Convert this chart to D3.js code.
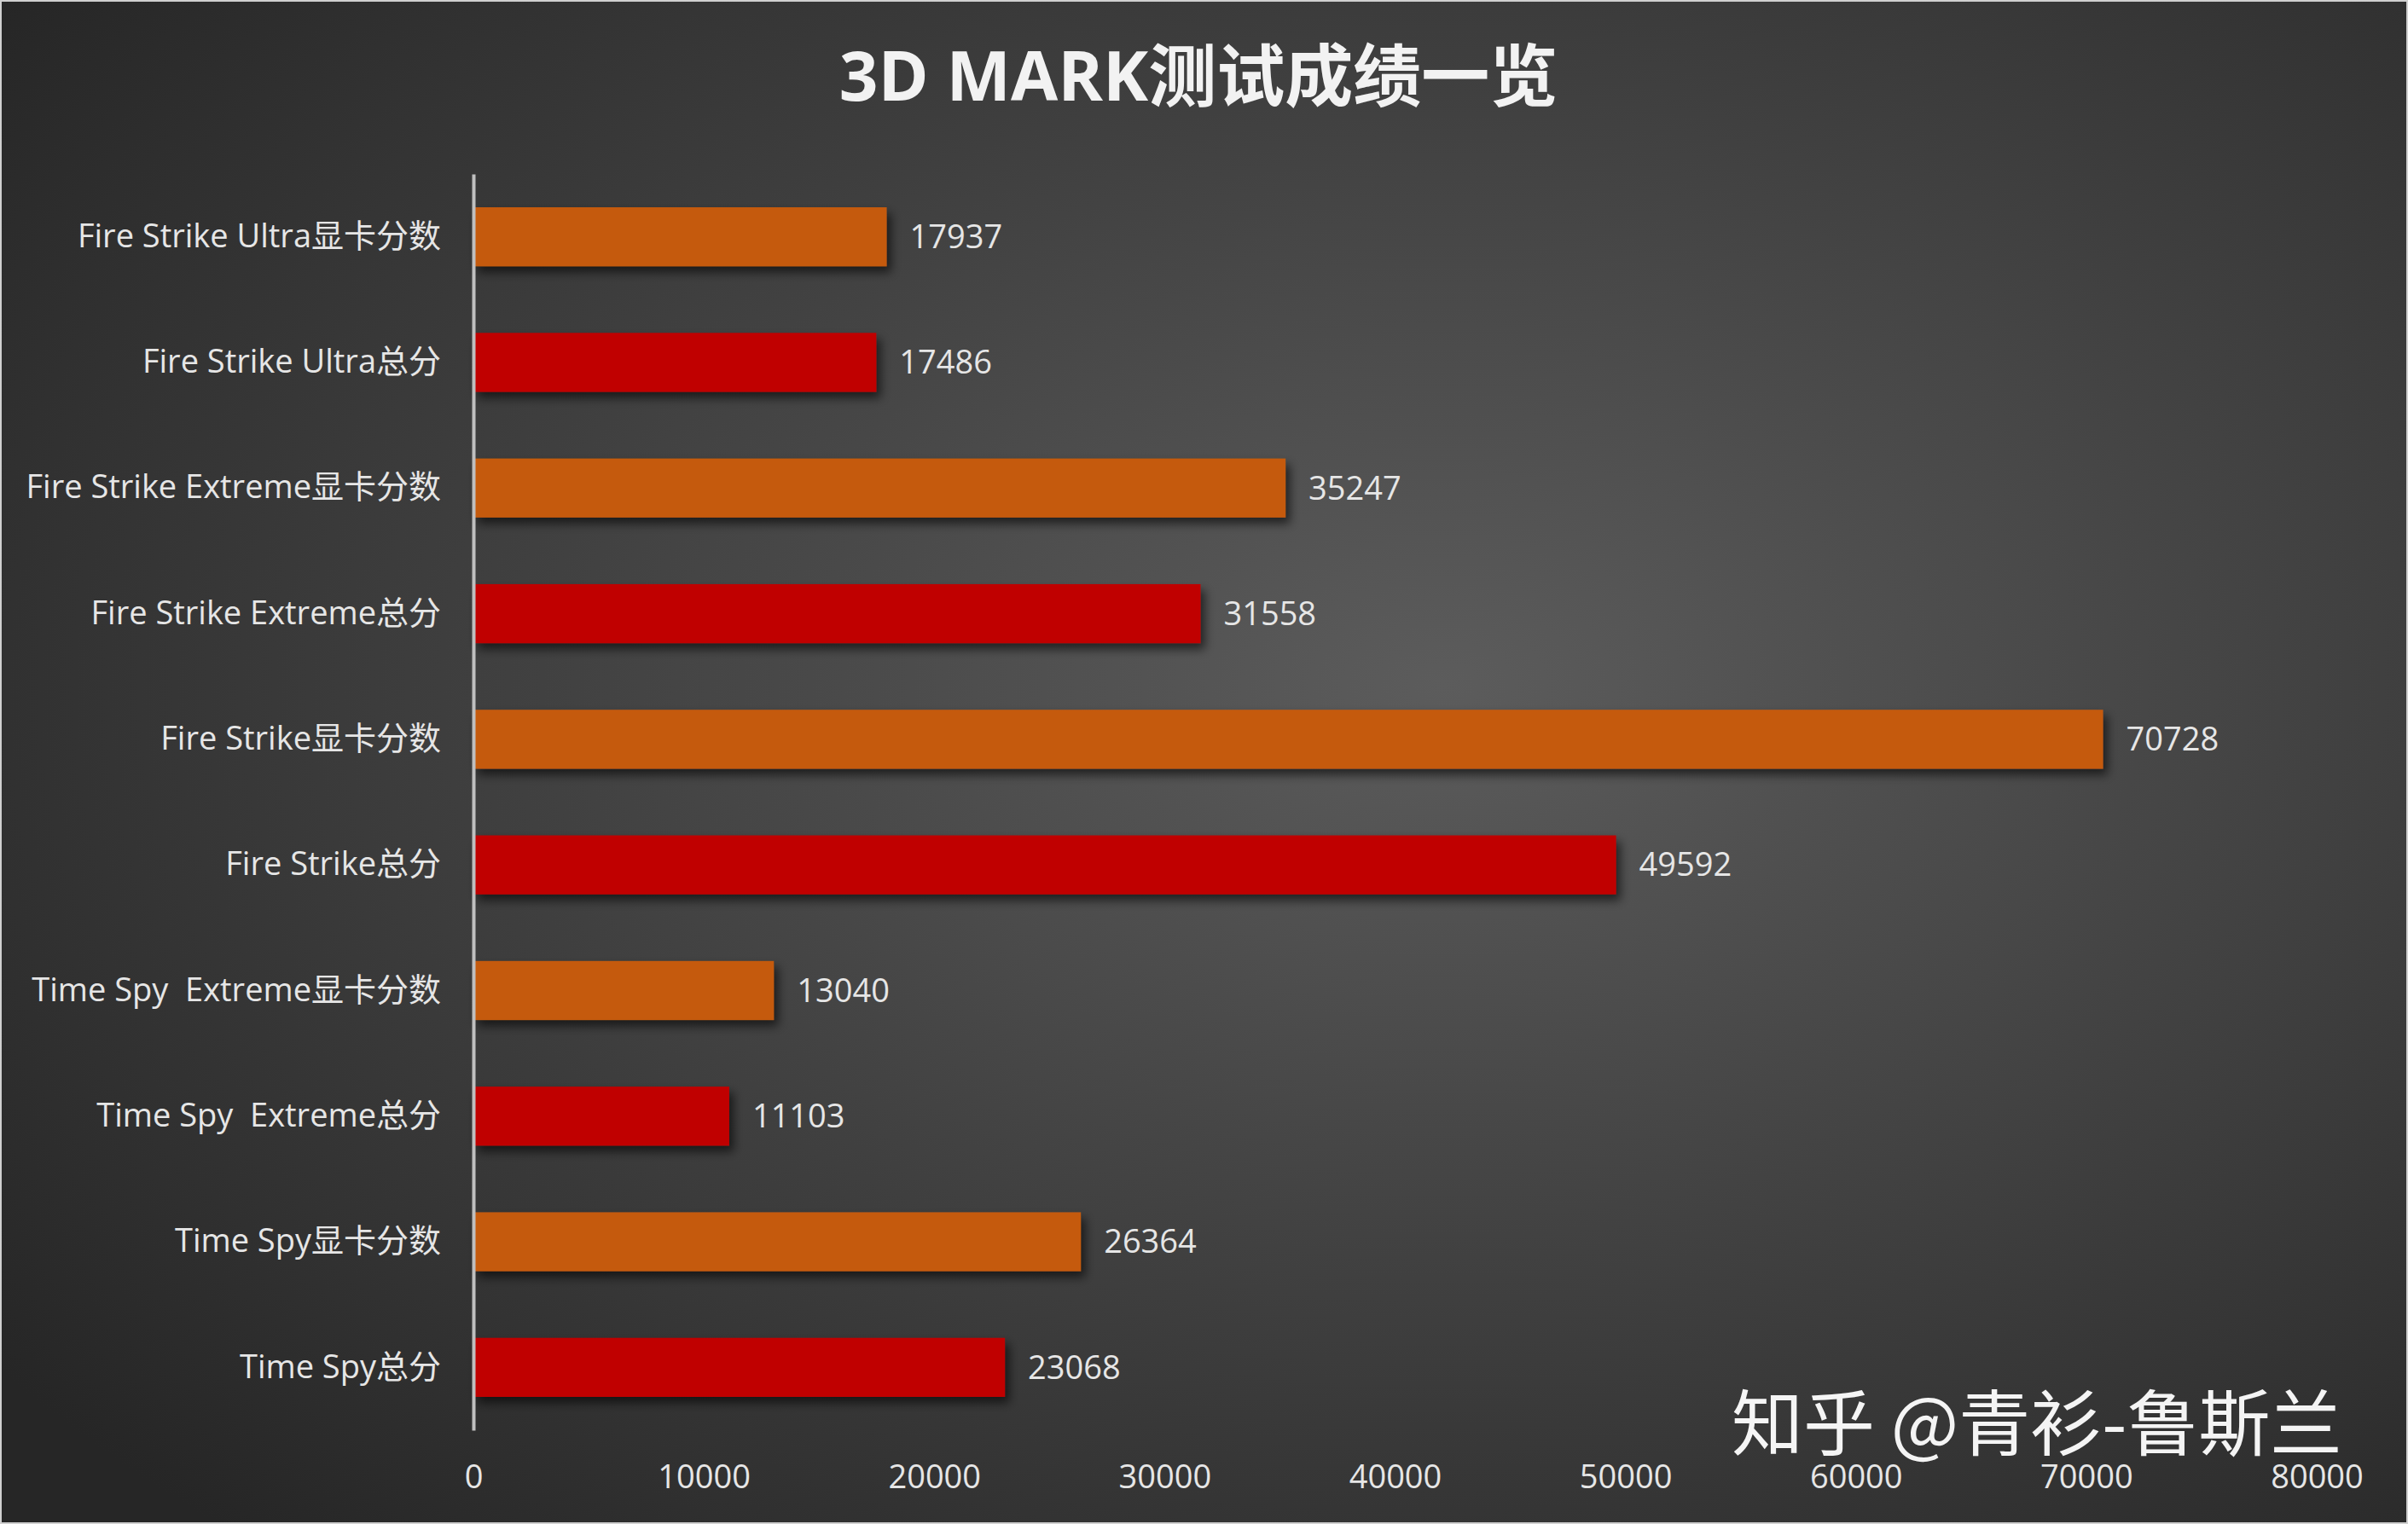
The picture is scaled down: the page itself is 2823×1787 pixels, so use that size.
<!DOCTYPE html>
<html><head><meta charset="utf-8">
<script src="https://cdn.jsdelivr.net/npm/d3@7"></script>
<style>
  body { margin: 0; background: #fff; }
  svg { display: block; }
</style></head>
<body><div id="chart"></div>
<script>
const categories = [
  'Fire Strike Ultra显卡分数', 'Fire Strike Ultra总分',
  'Fire Strike Extreme显卡分数', 'Fire Strike Extreme总分',
  'Fire Strike显卡分数', 'Fire Strike总分',
  'Time Spy  Extreme显卡分数', 'Time Spy  Extreme总分',
  'Time Spy显卡分数', 'Time Spy总分'
];
const scores = [17937, 17486, 35247, 31558, 70728, 49592, 13040, 11103, 26364, 23068];
const barColors = ['#C55A11', '#C00000'];
const xTicks = [0, 10000, 20000, 30000, 40000, 50000, 60000, 70000, 80000];

const W = 2823, H = 1787;
const font = '"Open Sans", "Noto Sans CJK SC", sans-serif';

const svg = d3.select('#chart').append('svg')
  .attr('width', W).attr('height', H);

const defs = svg.append('defs');
const grad = defs.append('radialGradient').attr('id', 'bg')
  .attr('cx', '60%').attr('cy', '45%').attr('r', '75%');
grad.append('stop').attr('offset', '0%').attr('stop-color', '#5c5c5c');
grad.append('stop').attr('offset', '100%').attr('stop-color', '#262626');
const sh = defs.append('filter').attr('id', 'shadow')
  .attr('x', '-5%').attr('y', '-20%').attr('width', '115%').attr('height', '160%');
sh.append('feDropShadow').attr('dx', 5).attr('dy', 7).attr('stdDeviation', 6)
  .attr('flood-color', '#000').attr('flood-opacity', 0.6);

svg.append('rect').attr('width', W).attr('height', H).attr('fill', 'url(#bg)')
  .attr('stroke', '#d0d0d0').attr('stroke-width', 4);

// title
svg.append('text')
  .attr('x', 1405).attr('y', 118)
  .attr('text-anchor', 'middle')
  .attr('fill', '#f2f2f2')
  .attr('font-family', font).attr('font-weight', 'bold').attr('font-size', 80)
  .text('3D MARK测试成绩一览');

const x = d3.scaleLinear().domain([0, 80000]).range([555, 2716]);
const y = d3.scaleBand().domain(categories).range([204, 1677]).paddingInner(0.53).paddingOuter(0.265);

// bars
svg.append('g').selectAll('rect')
  .data(scores)
  .join('rect')
  .attr('x', x(0))
  .attr('y', (d, i) => y(categories[i]))
  .attr('width', d => x(d) - x(0))
  .attr('height', y.bandwidth())
  .attr('fill', (d, i) => barColors[i % 2])
  .attr('filter', 'url(#shadow)');

// value labels
svg.append('g').selectAll('text')
  .data(scores)
  .join('text')
  .attr('x', d => x(d) + 27)
  .attr('y', (d, i) => y(categories[i]) + y.bandwidth() / 2)
  .attr('dy', '0.35em')
  .attr('fill', '#e6e6e6')
  .attr('font-family', font).attr('font-size', 38)
  .text(d => d);

// y axis
const yAxis = svg.append('g')
  .attr('transform', `translate(${x(0)},0)`)
  .call(d3.axisLeft(y).tickSize(0).tickPadding(38));
yAxis.select('.domain').attr('stroke', '#bfbfbf').attr('stroke-width', 4);
yAxis.selectAll('text')
  .attr('fill', '#e6e6e6')
  .attr('font-family', font).attr('font-size', 38)
  .style('white-space', 'pre');

// x axis (labels only)
const xAxis = svg.append('g')
  .attr('transform', 'translate(0,1700)')
  .call(d3.axisBottom(x).tickValues(xTicks).tickSize(0).tickPadding(18).tickFormat(d3.format('d')));
xAxis.select('.domain').remove();
xAxis.selectAll('text')
  .attr('fill', '#e6e6e6')
  .attr('font-family', font).attr('font-size', 38);

// watermark
svg.append('text')
  .attr('x', 2030).attr('y', 1700)
  .attr('fill', '#ffffff').attr('fill-opacity', 0.95)
  .attr('font-family', '"Noto Sans CJK SC", sans-serif').attr('font-size', 84)
  .text('知乎 @青衫-鲁斯兰');
</script>
</body></html>
